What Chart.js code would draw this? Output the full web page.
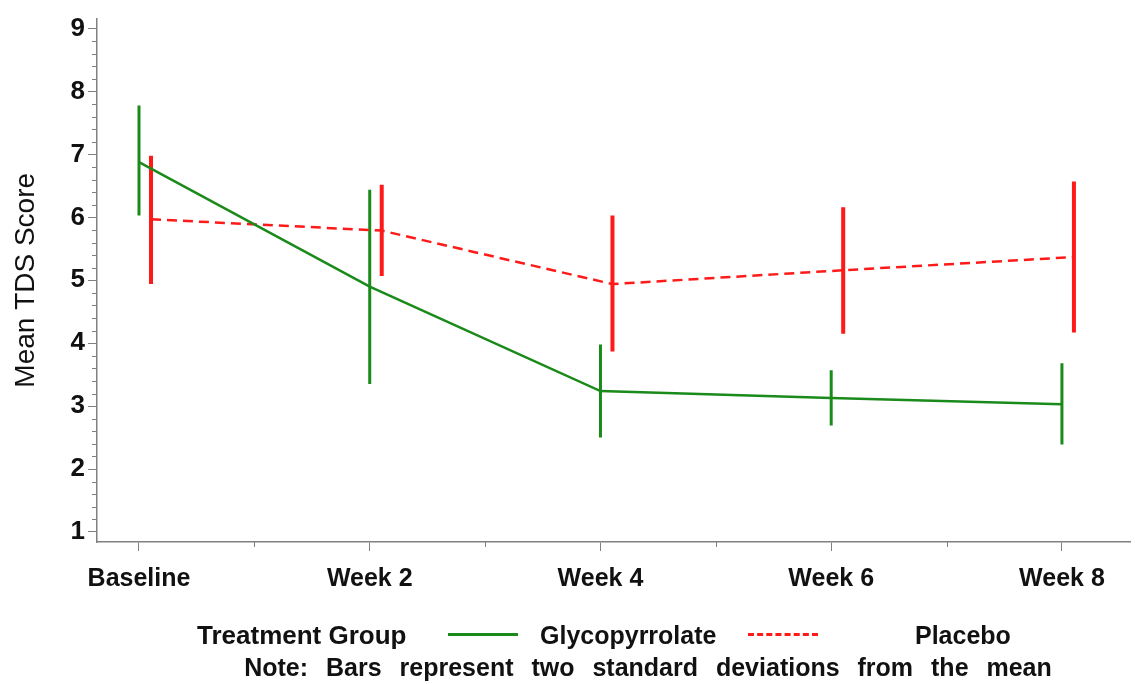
<!DOCTYPE html>
<html>
<head>
<meta charset="utf-8">
<script src="https://cdn.jsdelivr.net/npm/chart.js@4"></script>
<style>
    body { margin: 0; background: #fff; font-family: "Liberation Sans", Arial, sans-serif; }
    #wrap { position: relative; width: 1135px; height: 684px; }
    .lg { position: absolute; font-size: 25px; font-weight: bold; line-height: 30px; color: #111; white-space: nowrap; }
    .sample { position: absolute; width: 70px; height: 0; }
</style>
</head>
<body>
<div id="wrap">
    <canvas id="chart"></canvas>
    <div class="lg" style="left:197px; top:620px; font-size:26px;">Treatment Group</div>
    <div class="sample" style="left:448px; top:633px; border-top:3px solid #1a8a1a;"></div>
    <div class="lg" style="left:540px; top:620px;">Glycopyrrolate</div>
    <div class="sample" style="left:748px; top:633px; border-top:3px dashed #ff1a1a;"></div>
    <div class="lg" style="left:915px; top:620px;">Placebo</div>
    <div class="lg" style="left:0; width:1296px; text-align:center; top:652px; word-spacing:11px;">Note: Bars represent two standard deviations from the mean</div>
</div>
<script>
// Chart data
const categories = ["Baseline", "Week 2", "Week 4", "Week 6", "Week 8"];
const glycoMean = [6.88, 4.90, 3.24, 3.13, 3.03];
const glycoLow = [6.03, 3.35, 2.50, 2.69, 2.39];
const glycoHigh = [7.78, 6.44, 3.98, 3.57, 3.68];
const placeboMean = [5.97, 5.79, 4.94, 5.16, 5.37];
const placeboLow = [4.94, 5.07, 3.87, 4.15, 4.17];
const placeboHigh = [6.98, 6.52, 6.03, 6.16, 6.57];
const yTicks = [1, 2, 3, 4, 5, 6, 7, 8, 9];

const GREEN = "#1a8a1a";
const RED = "#ff1a1a";
const AXIS = "#808080";
const placeboShift = 0.052;

function meanPoints(values, shift) {
    return values.map((v, i) => ({ x: i + shift, y: v }));
}

// vertical bars, separated by null points so the line breaks
function barPoints(low, high, shift) {
    const pts = [];
    low.forEach((lo, i) => {
        pts.push({ x: i + shift, y: lo });
        pts.push({ x: i + shift, y: high[i] });
        pts.push({ x: i + shift, y: null });
    });
    return pts;
}

// minor tick marks on both axes
const minorTicks = {
    id: "minorTicks",
    afterDraw(chart) {
        const ctx = chart.ctx;
        const xs = chart.scales.x;
        const ys = chart.scales.y;
        ctx.save();
        ctx.strokeStyle = AXIS;
        ctx.lineWidth = 1;
        ctx.beginPath();
        for (let v = 1; v < 9; v += 0.2) {
            if (Math.abs(v - Math.round(v)) < 0.01) continue;
            const py = Math.round(ys.getPixelForValue(v)) + 0.5;
            ctx.moveTo(ys.right - 5, py);
            ctx.lineTo(ys.right, py);
        }
        for (let i = 0; i < categories.length - 1; i++) {
            const px = Math.round(xs.getPixelForValue(i + 0.5)) + 0.5;
            ctx.moveTo(px, xs.top);
            ctx.lineTo(px, xs.top + 5);
        }
        ctx.stroke();
        ctx.restore();
    }
};

const ctx = document.getElementById("chart").getContext("2d");
new Chart(ctx, {
    type: "line",
    data: {
        datasets: [
            {
                label: "Glycopyrrolate",
                data: meanPoints(glycoMean, 0),
                borderColor: GREEN,
                borderWidth: 2.5,
                pointRadius: 0
            },
            {
                label: "Placebo",
                data: meanPoints(placeboMean, placeboShift),
                borderColor: RED,
                borderWidth: 2.5,
                borderDash: [10, 6],
                pointRadius: 0
            },
            {
                label: "Glycopyrrolate bars",
                data: barPoints(glycoLow, glycoHigh, 0),
                borderColor: GREEN,
                borderWidth: 3,
                pointRadius: 0,
                spanGaps: false
            },
            {
                label: "Placebo bars",
                data: barPoints(placeboLow, placeboHigh, placeboShift),
                borderColor: RED,
                borderWidth: 4,
                pointRadius: 0,
                spanGaps: false
            }
        ]
    },
    options: {
        responsive: true,
        maintainAspectRatio: false,
        animation: false,
        layout: { padding: { top: 15, right: 5, left: 0, bottom: 0 } },
        plugins: {
            legend: { display: false },
            tooltip: { enabled: false }
        },
        scales: {
            x: {
                type: "linear",
                min: -0.182,
                max: 4.295,
                afterBuildTicks: scale => {
                    scale.ticks = categories.map((c, i) => ({ value: i }));
                },
                afterFit: scale => { scale.height = 142; },
                grid: {
                    drawOnChartArea: false,
                    tickLength: 9,
                    tickColor: AXIS
                },
                border: { color: AXIS, width: 1.5 },
                ticks: {
                    callback: v => categories[v],
                    color: "#111",
                    padding: 13,
                    maxRotation: 0,
                    font: { family: "Liberation Sans", size: 25, weight: "bold" }
                }
            },
            y: {
                min: 0.84,
                max: 9.16,
                afterBuildTicks: scale => {
                    scale.ticks = yTicks.map(v => ({ value: v }));
                },
                afterFit: scale => { scale.width = 97; },
                grid: {
                    drawOnChartArea: false,
                    tickLength: 9,
                    tickColor: AXIS
                },
                border: { color: AXIS, width: 1.5 },
                ticks: {
                    color: "#111",
                    padding: 3,
                    font: { family: "Liberation Sans", size: 26, weight: "bold" }
                },
                title: {
                    display: true,
                    text: "Mean TDS Score",
                    color: "#111",
                    padding: { top: 9, bottom: 0 },
                    font: { family: "Liberation Sans", size: 28 }
                }
            }
        }
    },
    plugins: [minorTicks]
});
</script>
</body>
</html>
